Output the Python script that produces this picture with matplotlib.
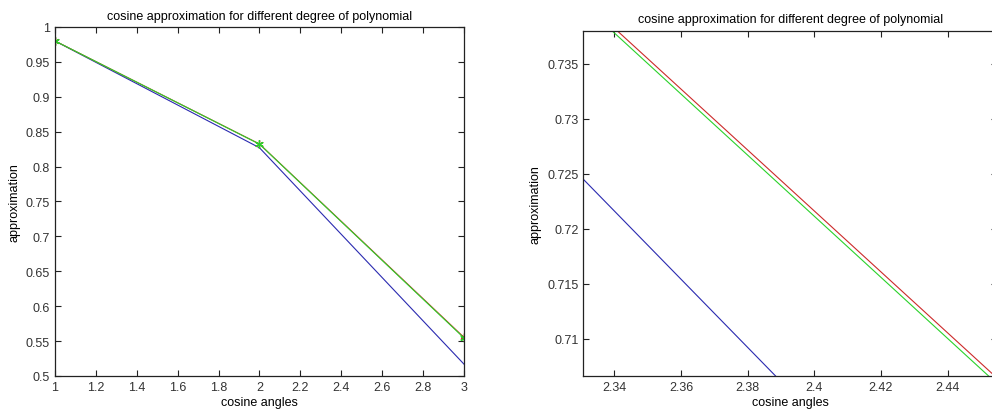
import matplotlib
matplotlib.use("Agg")
import matplotlib.pyplot as plt
from matplotlib.ticker import FormatStrFormatter, MultipleLocator

# data
angles = [1, 2, 3]
approx_blue = [0.980, 0.827, 0.517]
approx_red = [0.980, 0.8324, 0.5554]
approx_green = [0.980, 0.8322, 0.5545]

title = "cosine approximation for different degree of polynomial"
xlabel = "cosine angles"
ylabel = "approximation"

plt.rcParams["font.family"] = ["Liberation Sans", "DejaVu Sans"]
plt.rcParams["font.size"] = 9

fig = plt.figure(figsize=(9.92, 4.14), dpi=100)
ax1 = fig.add_axes([0.0554, 0.0894, 0.4123, 0.843])
ax2 = fig.add_axes([0.588, 0.0894, 0.417, 0.8345])

blue = "#2a2ab0"
red = "#cc2a2a"
green = "#2ad22a"
star = (6, 2, 0)

for ax in (ax1, ax2):
    ax.plot(angles, approx_blue, color=blue, lw=0.8)
    ax.plot(angles, approx_red, color=red, lw=0.8, marker=star, ms=6, mew=0.9)
    ax.plot(angles, approx_green, color=green, lw=0.8, marker=star, ms=6, mew=0.9)
    ax.set_title(title, fontsize=9, pad=6)
    ax.set_xlabel(xlabel, labelpad=2)
    ax.set_ylabel(ylabel, labelpad=4)
    ax.tick_params(direction="in", top=True, right=True, length=4, width=0.8,
                   colors="#222222", labelcolor="#333333", labelsize=9)
    ax.yaxis.set_major_formatter(FormatStrFormatter("%g"))
    ax.xaxis.set_major_formatter(FormatStrFormatter("%g"))
    for s in ax.spines.values():
        s.set_linewidth(0.9)
        s.set_color("#222222")

# left: full view
ax1.set_xlim(1, 3)
ax1.set_ylim(0.5, 1)
ax1.xaxis.set_major_locator(MultipleLocator(0.2))
ax1.yaxis.set_major_locator(MultipleLocator(0.05))

# right: zoomed view
ax2.set_xlim(2.3307, 2.4548)
ax2.set_ylim(0.7066, 0.738)
ax2.xaxis.set_major_locator(MultipleLocator(0.02))
ax2.yaxis.set_major_locator(MultipleLocator(0.005))

fig.savefig("out.png", dpi=100)
